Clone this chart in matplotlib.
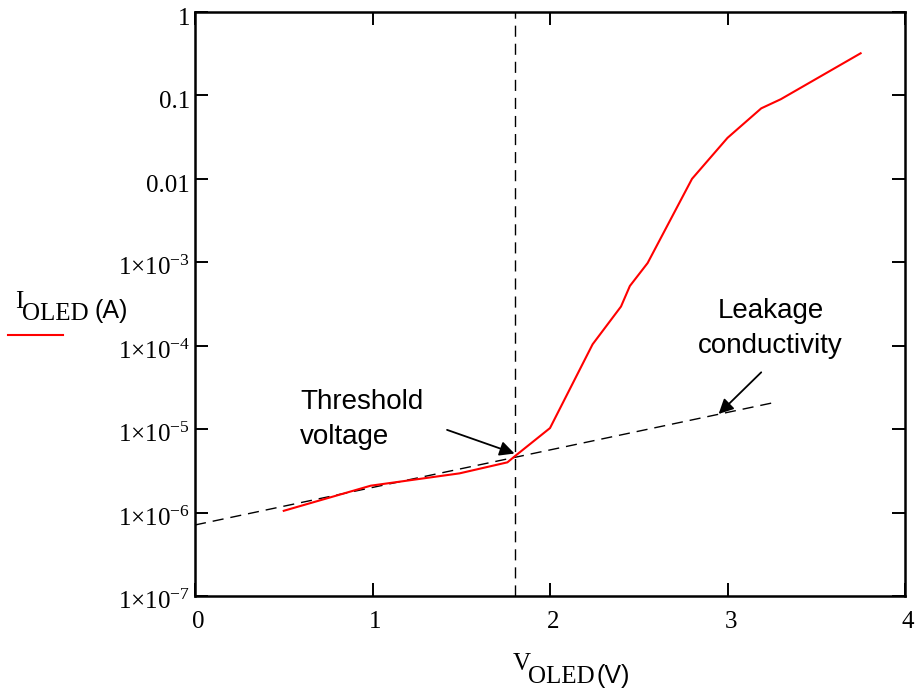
import matplotlib
matplotlib.use('Agg')
import matplotlib.pyplot as plt
from matplotlib.transforms import offset_copy, blended_transform_factory

plt.rcParams['mathtext.fontset'] = 'custom'
plt.rcParams['mathtext.rm'] = 'Liberation Serif'
plt.rcParams['mathtext.it'] = 'Liberation Serif:italic'
plt.rcParams['mathtext.bf'] = 'Liberation Serif:bold'

SERIF = 'Liberation Serif'
SANS = 'Liberation Sans'

# measured OLED I-V curve
v_oled = [0.50, 0.99, 1.49, 1.76, 1.80, 2.00, 2.24, 2.40, 2.45, 2.55,
          2.80, 3.00, 3.19, 3.30, 3.75]
i_oled = [1.05e-6, 2.1e-6, 2.95e-6, 4.0e-6, 4.7e-6, 1.03e-5, 1.04e-4,
          2.95e-4, 5.2e-4, 9.8e-4, 1.0e-2, 3.1e-2, 7.0e-2, 9.0e-2, 0.32]

# leakage conductivity fit (straight line on log axis)
v_leak = [0.0, 3.27]
i_leak = [7.1e-7, 2.1e-5]

v_threshold = 1.8

x_ticks = [0, 1, 2, 3, 4]
y_ticks = [1, 0.1, 0.01, 1e-3, 1e-4, 1e-5, 1e-6, 1e-7]
y_tick_labels = ['1', '0.1', '0.01', r'$1{\times}10^{-3}$', r'$1{\times}10^{-4}$',
                 r'$1{\times}10^{-5}$', r'$1{\times}10^{-6}$', r'$1{\times}10^{-7}$']

fig = plt.figure(figsize=(9.15, 6.89), dpi=100)
W, H = 915, 689
ax = fig.add_axes([195 / W, 1 - 596 / H, 710 / W, 584 / H])

ax.plot(v_oled, i_oled, color='#ff0000', lw=1.5, zorder=3)
ax.plot(v_leak, i_leak, color='k', lw=1.0, linestyle=(0, (8, 5)), zorder=2)
ax.axvline(v_threshold, color='k', lw=1.0, linestyle=(0, (8, 5)), zorder=2)

ax.set_xlim(0, 4)
ax.set_yscale('log')
ax.set_ylim(1e-7, 1)
ax.set_xticks(x_ticks)
ax.set_yticks(y_ticks)
ax.minorticks_off()
ax.tick_params(which='both', direction='in', length=9.5, width=1.4,
               top=True, right=True, labelleft=False, labelbottom=False)
for s in ax.spines.values():
    s.set_linewidth(1.8)

# tick labels, drawn by hand so the text hangs below each tick
ytrans = blended_transform_factory(ax.transAxes, ax.transData)
ytrans = offset_copy(ytrans, fig=fig, x=-5, y=-13, units='dots')
for val, lab in zip(y_ticks, y_tick_labels):
    ax.text(0, val, lab, transform=ytrans, ha='right', va='baseline',
            family=SERIF, fontsize=18, clip_on=False)

xtrans = blended_transform_factory(ax.transData, ax.transAxes)
xtrans = offset_copy(xtrans, fig=fig, x=3, y=-32, units='dots')
for val in x_ticks:
    ax.text(val, 0, str(val), transform=xtrans, ha='center', va='baseline',
            family=SERIF, fontsize=18, clip_on=False)


def px(x, y):
    return x / W, 1 - y / H


# axis labels, Mathcad style
fig.text(*px(15, 308), 'I', family=SERIF, fontsize=18, va='baseline')
fig.text(*px(22, 320), 'OLED', family=SERIF, fontsize=18, va='baseline')
fig.text(*px(95, 318), '(A)', family=SANS, fontsize=18, va='baseline')
fig.add_artist(plt.Line2D([8 / W, 63 / W], [1 - 335 / H, 1 - 335 / H],
                          color='#ff0000', lw=1.5))

fig.text(*px(513, 670), 'V', family=SERIF, fontsize=18, va='baseline')
fig.text(*px(528, 683), 'OLED', family=SERIF, fontsize=18, va='baseline')
fig.text(*px(597, 683), '(V)', family=SANS, fontsize=18, va='baseline')

# annotations
fig.text(*px(300, 409), 'Threshold', family=SANS, fontsize=20, va='baseline')
fig.text(*px(300, 444), 'voltage', family=SANS, fontsize=20, va='baseline')
fig.text(*px(718, 318), 'Leakage', family=SANS, fontsize=20, va='baseline')
fig.text(*px(698, 353), 'conductivity', family=SANS, fontsize=20, va='baseline')

arrow = dict(arrowstyle='-|>', color='k', lw=1.3, mutation_scale=22,
             shrinkA=0, shrinkB=0)
ax.annotate('', xy=(1.80, 5.1e-6), xytext=(1.42, 9.8e-6), arrowprops=arrow)
ax.annotate('', xy=(2.95, 1.52e-5), xytext=(3.19, 4.8e-5), arrowprops=arrow)

fig.savefig('out.png', dpi=100)
